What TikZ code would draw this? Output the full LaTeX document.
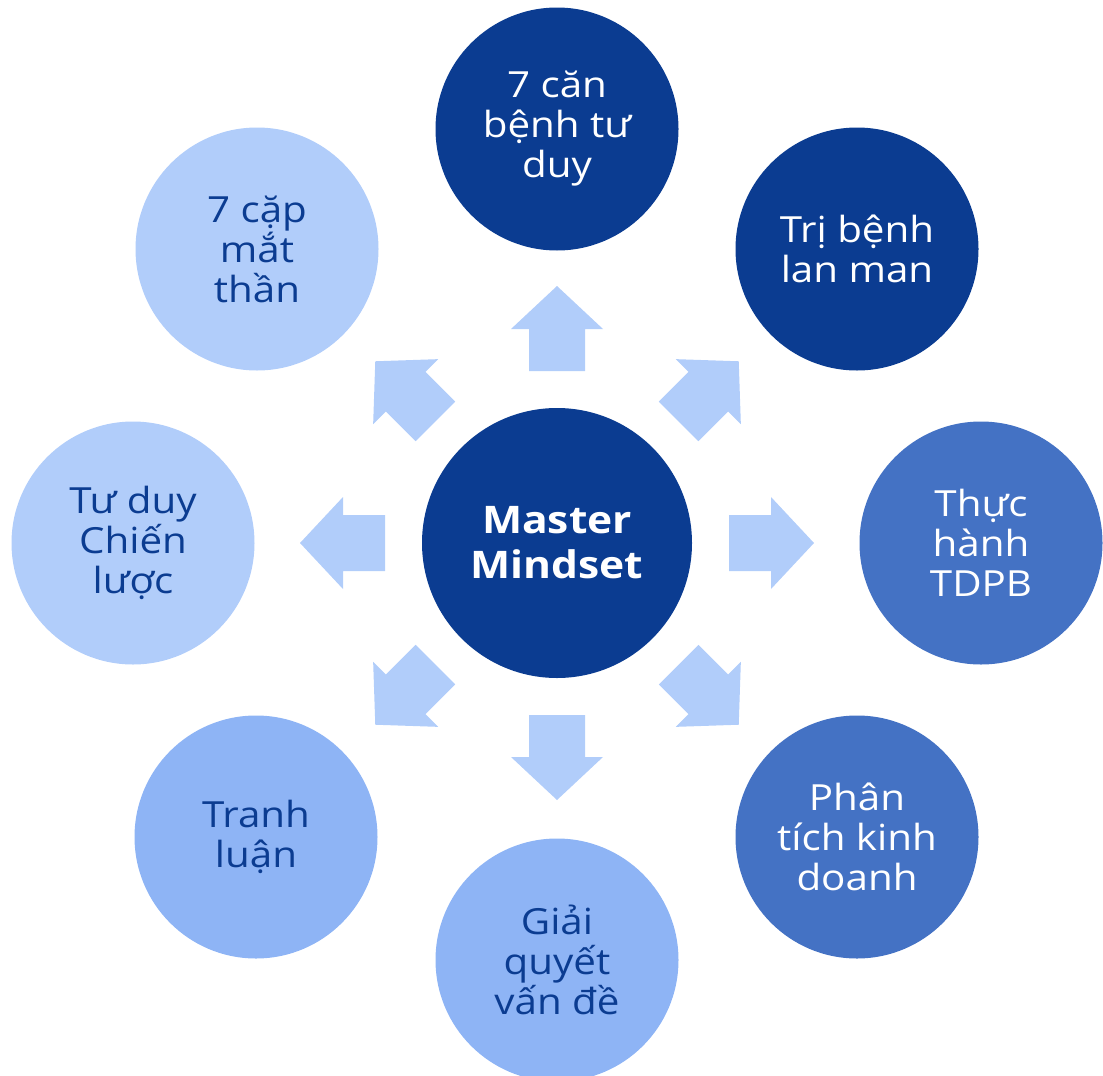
\documentclass[tikz,border=0pt]{standalone}
\usepackage{fontspec}
\setmainfont{Open Sans}[FakeStretch=1.12]
\definecolor{cdark}{HTML}{0B3C91}
\definecolor{cmid}{HTML}{4472C4}
\definecolor{clight}{HTML}{8EB4F5}
\definecolor{cpale}{HTML}{B1CDFA}
\tikzset{
  bubble/.style={circle, minimum size=243pt, inner sep=0pt, align=center,
    font=\fontsize{36}{40}\selectfont},
  darkb/.style={bubble, fill=cdark, text=white},
  midb/.style={bubble, fill=cmid, text=white},
  lightb/.style={bubble, fill=clight, text=cdark},
  paleb/.style={bubble, fill=cpale, text=cdark},
  hub/.style={circle, minimum size=270pt, inner sep=0pt, align=center, fill=cdark,
    text=white, font=\bfseries\fontsize{38}{45}\selectfont},
  blockarrow/.pic={
    \fill[cpale] (172,28) -- (214,28) -- (214,46) -- (257,0) -- (214,-46)
      -- (214,-28) -- (172,-28) -- cycle;
  }
}
\begin{document}
\begin{tikzpicture}[x=1pt,y=-1pt]
\useasboundingbox (0,0) rectangle (1103,1076);
\node[hub] (hub) at (557,543) {Master\\Mindset};
\node[darkb] (n) at (557,129) {7 căn\\bệnh tư\\duy};
\node[darkb] (ne) at (857,249) {Trị bệnh\\lan man};
\node[midb] (e) at (981,543) {Thực\\hành\\TDPB};
\node[midb] (se) at (857,837) {Phân\\tích kinh\\doanh};
\node[lightb] (s) at (557,960) {Giải\\quyết\\vấn đề};
\node[lightb] (sw) at (256,837) {Tranh\\luận};
\node[paleb] (w) at (133,543) {Tư duy\\Chiến\\lược};
\node[paleb] (nw) at (257,249) {7 cặp\\mắt\\thần};
\foreach \a in {0,45,...,315} {
  \pic[rotate=\a] at (hub.center) {blockarrow};
}
\end{tikzpicture}
\end{document}
